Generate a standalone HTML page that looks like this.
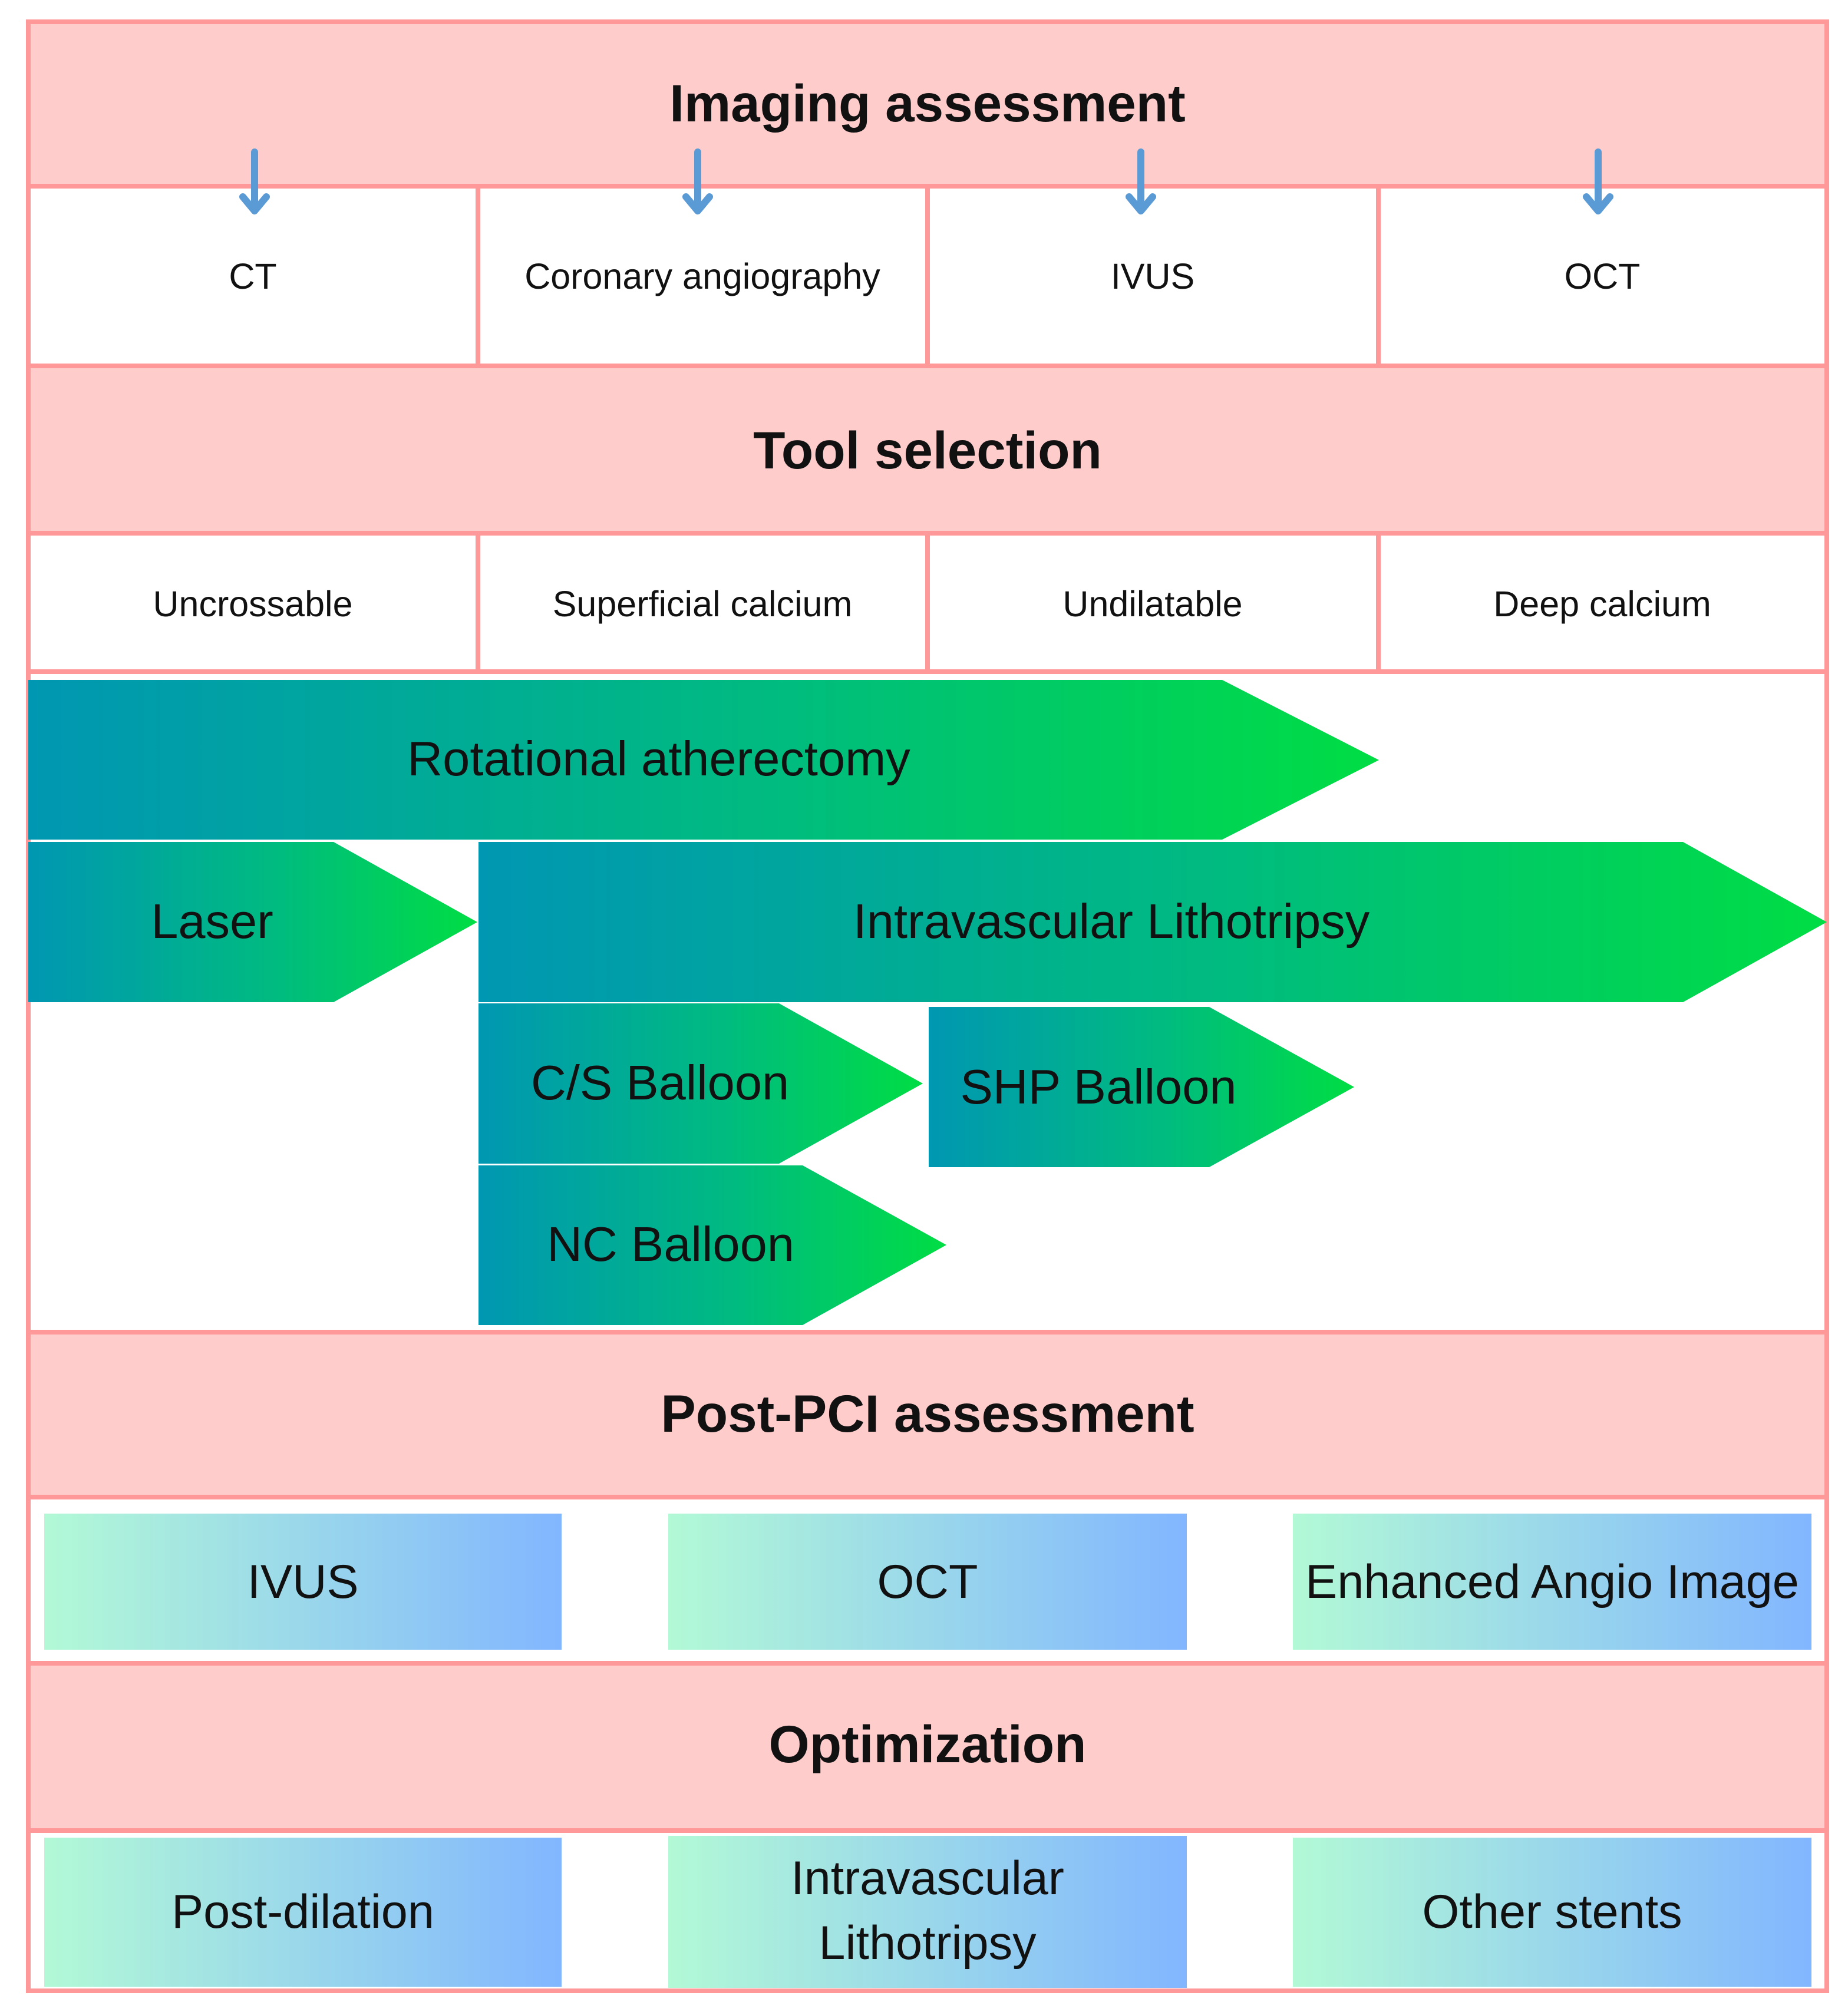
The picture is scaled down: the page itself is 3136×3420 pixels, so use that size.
<!DOCTYPE html>
<html><head><meta charset="utf-8"><style>
html,body{margin:0;padding:0;background:#fff;}
svg{display:block;}
text{font-family:"Liberation Sans",sans-serif;fill:#111;}
</style></head><body>
<svg width="3136" height="3420" viewBox="0 0 3136 3420" xmlns="http://www.w3.org/2000/svg">
<defs>
<linearGradient id="g" x1="0" y1="0" x2="1" y2="0">
<stop offset="0" stop-color="#0097b2"/><stop offset="0.55" stop-color="#00bb80"/><stop offset="1" stop-color="#00dd44"/>
</linearGradient>
<linearGradient id="b" x1="0" y1="0" x2="1" y2="0">
<stop offset="0" stop-color="#b2f9d6"/><stop offset="1" stop-color="#82b6ff"/>
</linearGradient>
</defs>
<rect width="3136" height="3420" fill="#fff"/>
<g fill="#ffcccc" stroke="#ff9999" stroke-width="8">
<rect x="48" y="37" width="3052" height="279"/>
<rect x="48" y="621" width="3052" height="284"/>
<rect x="48" y="2261" width="3052" height="280"/>
<rect x="48" y="2823" width="3052" height="284"/>
</g>
<g fill="none" stroke="#ff9999" stroke-width="8">
<rect x="48" y="316" width="3052" height="305"/>
<rect x="48" y="905" width="3052" height="235"/>
<rect x="48" y="1140" width="3052" height="1121"/>
<rect x="48" y="2541" width="3052" height="282"/>
<rect x="48" y="3107" width="3052" height="272"/>
<line x1="811" y1="316" x2="811" y2="621"/><line x1="1574" y1="316" x2="1574" y2="621"/><line x1="2339" y1="316" x2="2339" y2="621"/>
<line x1="811" y1="905" x2="811" y2="1140"/><line x1="1574" y1="905" x2="1574" y2="1140"/><line x1="2339" y1="905" x2="2339" y2="1140"/>
</g>
<g stroke="#5b9bd5" stroke-width="12" fill="none" stroke-linecap="round" stroke-linejoin="round">
<line x1="432" y1="258" x2="432" y2="356"/><polyline points="412,334 432,358 452,334"/>
<line x1="1184" y1="258" x2="1184" y2="356"/><polyline points="1164,334 1184,358 1204,334"/>
<line x1="1936" y1="258" x2="1936" y2="356"/><polyline points="1916,334 1936,358 1956,334"/>
<line x1="2712" y1="258" x2="2712" y2="356"/><polyline points="2692,334 2712,358 2732,334"/>
</g>
<g font-weight="bold" font-size="89" text-anchor="middle">
<text x="1574" y="206">Imaging assessment</text>
<text x="1574" y="795">Tool selection</text>
<text x="1574" y="2430">Post-PCI assessment</text>
<text x="1574" y="2991">Optimization</text>
</g>
<g font-size="61" text-anchor="middle">
<text x="429" y="490">CT</text><text x="1192" y="490">Coronary angiography</text><text x="1956" y="490">IVUS</text><text x="2719" y="490">OCT</text>
<text x="429" y="1046">Uncrossable</text><text x="1192" y="1046">Superficial calcium</text><text x="1956" y="1046">Undilatable</text><text x="2719" y="1046">Deep calcium</text>
</g>
<g fill="url(#g)">
<polygon points="48,1154 2074,1154 2340,1290 2074,1425 48,1425"/>
<polygon points="48,1429 566,1429 810,1565 566,1701 48,1701"/>
<polygon points="812,1429 2856,1429 3100,1565 2856,1701 812,1701"/>
<polygon points="812,1703 1322,1703 1566,1839 1322,1975 812,1975"/>
<polygon points="1576,1709 2052,1709 2298,1845 2052,1981 1576,1981"/>
<polygon points="812,1978 1362,1978 1606,2113 1362,2249 812,2249"/>
</g>
<g font-size="83" text-anchor="middle">
<text x="1118" y="1316">Rotational atherectomy</text>
<text x="360" y="1592">Laser</text>
<text x="1886" y="1592">Intravascular Lithotripsy</text>
<text x="1120" y="1866">C/S Balloon</text>
<text x="1864" y="1873">SHP Balloon</text>
<text x="1138" y="2140">NC Balloon</text>
</g>
<g fill="url(#b)">
<rect x="75" y="2569" width="878" height="231"/>
<rect x="1134" y="2569" width="880" height="231"/>
<rect x="2194" y="2569" width="880" height="231"/>
<rect x="75" y="3119" width="878" height="253"/>
<rect x="1134" y="3116" width="880" height="258"/>
<rect x="2194" y="3119" width="880" height="253"/>
</g>
<g font-size="81" text-anchor="middle">
<text x="514" y="2712">IVUS</text>
<text x="1574" y="2712">OCT</text>
<text x="2634" y="2712">Enhanced Angio Image</text>
<text x="514" y="3272">Post-dilation</text>
<text x="1574" y="3215">Intravascular</text>
<text x="1574" y="3325">Lithotripsy</text>
<text x="2634" y="3272">Other stents</text>
</g>
</svg>
</body></html>
